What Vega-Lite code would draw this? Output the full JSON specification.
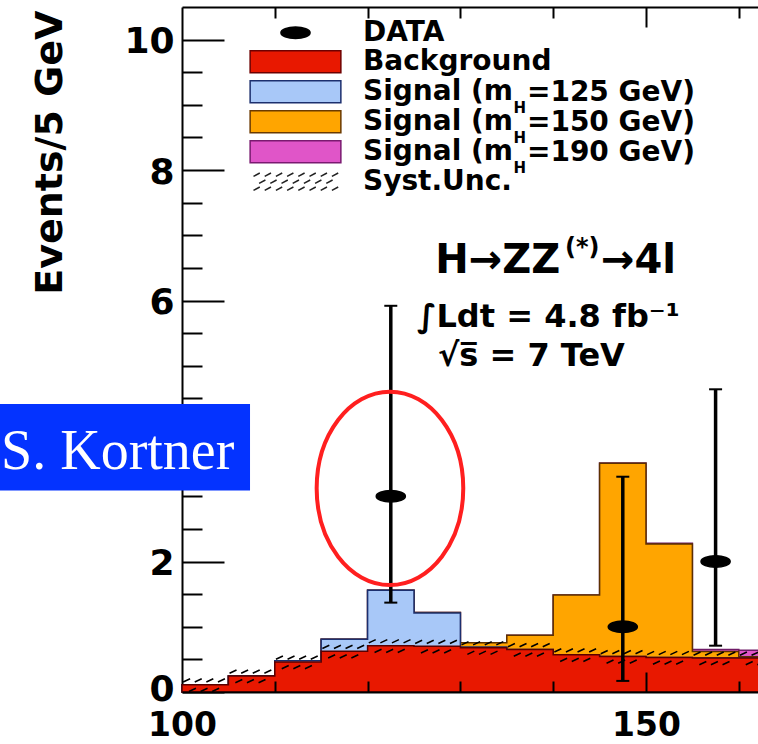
{
  "$schema": "https://vega.github.io/schema/vega-lite/v6.json",
  "width": 576,
  "height": 685,
  "autosize": {"type": "none"},
  "padding": {"left": 182, "top": 7, "right": 0, "bottom": 52},
  "background": "white",
  "config": {
    "view": {"stroke": null},
    "axis": {
      "grid": false,
      "domainColor": "black",
      "domainWidth": 2,
      "tickColor": "black",
      "tickWidth": 2,
      "labelColor": "black",
      "labelFont": "DejaVu Sans",
      "labelFontWeight": "bold",
      "titleColor": "black",
      "labelFlush": false
    },
    "text": {"font": "DejaVu Sans", "fontWeight": "bold", "color": "black", "align": "left", "baseline": "alphabetic"}
  },
  "datasets": {
    "hist": [
      {"mlow": 100, "series": "Background", "value": 0.11},
      {"mlow": 105, "series": "Background", "value": 0.245},
      {"mlow": 110, "series": "Background", "value": 0.46},
      {"mlow": 115, "series": "Background", "value": 0.625},
      {"mlow": 120, "series": "Background", "value": 0.71},
      {"mlow": 125, "series": "Background", "value": 0.7},
      {"mlow": 130, "series": "Background", "value": 0.68},
      {"mlow": 135, "series": "Background", "value": 0.65},
      {"mlow": 140, "series": "Background", "value": 0.57},
      {"mlow": 145, "series": "Background", "value": 0.545},
      {"mlow": 150, "series": "Background", "value": 0.53},
      {"mlow": 155, "series": "Background", "value": 0.52},
      {"mlow": 160, "series": "Background", "value": 0.52},
      {"mlow": 165, "series": "Background", "value": 0.52},
      {"mlow": 100, "series": "Signal (mH=125 GeV)", "value": 0},
      {"mlow": 105, "series": "Signal (mH=125 GeV)", "value": 0},
      {"mlow": 110, "series": "Signal (mH=125 GeV)", "value": 0.02},
      {"mlow": 115, "series": "Signal (mH=125 GeV)", "value": 0.185},
      {"mlow": 120, "series": "Signal (mH=125 GeV)", "value": 0.85},
      {"mlow": 125, "series": "Signal (mH=125 GeV)", "value": 0.51},
      {"mlow": 130, "series": "Signal (mH=125 GeV)", "value": 0.01},
      {"mlow": 135, "series": "Signal (mH=125 GeV)", "value": 0},
      {"mlow": 140, "series": "Signal (mH=125 GeV)", "value": 0},
      {"mlow": 145, "series": "Signal (mH=125 GeV)", "value": 0},
      {"mlow": 150, "series": "Signal (mH=125 GeV)", "value": 0},
      {"mlow": 155, "series": "Signal (mH=125 GeV)", "value": 0},
      {"mlow": 160, "series": "Signal (mH=125 GeV)", "value": 0},
      {"mlow": 165, "series": "Signal (mH=125 GeV)", "value": 0},
      {"mlow": 100, "series": "Signal (mH=150 GeV)", "value": 0},
      {"mlow": 105, "series": "Signal (mH=150 GeV)", "value": 0},
      {"mlow": 110, "series": "Signal (mH=150 GeV)", "value": 0},
      {"mlow": 115, "series": "Signal (mH=150 GeV)", "value": 0},
      {"mlow": 120, "series": "Signal (mH=150 GeV)", "value": 0},
      {"mlow": 125, "series": "Signal (mH=150 GeV)", "value": 0.01},
      {"mlow": 130, "series": "Signal (mH=150 GeV)", "value": 0.065},
      {"mlow": 135, "series": "Signal (mH=150 GeV)", "value": 0.22},
      {"mlow": 140, "series": "Signal (mH=150 GeV)", "value": 0.917},
      {"mlow": 145, "series": "Signal (mH=150 GeV)", "value": 2.96},
      {"mlow": 150, "series": "Signal (mH=150 GeV)", "value": 1.74},
      {"mlow": 155, "series": "Signal (mH=150 GeV)", "value": 0.1},
      {"mlow": 160, "series": "Signal (mH=150 GeV)", "value": 0.02},
      {"mlow": 165, "series": "Signal (mH=150 GeV)", "value": 0.01},
      {"mlow": 100, "series": "Signal (mH=190 GeV)", "value": 0},
      {"mlow": 105, "series": "Signal (mH=190 GeV)", "value": 0},
      {"mlow": 110, "series": "Signal (mH=190 GeV)", "value": 0},
      {"mlow": 115, "series": "Signal (mH=190 GeV)", "value": 0},
      {"mlow": 120, "series": "Signal (mH=190 GeV)", "value": 0},
      {"mlow": 125, "series": "Signal (mH=190 GeV)", "value": 0},
      {"mlow": 130, "series": "Signal (mH=190 GeV)", "value": 0},
      {"mlow": 135, "series": "Signal (mH=190 GeV)", "value": 0},
      {"mlow": 140, "series": "Signal (mH=190 GeV)", "value": 0},
      {"mlow": 145, "series": "Signal (mH=190 GeV)", "value": 0.005},
      {"mlow": 150, "series": "Signal (mH=190 GeV)", "value": 0.01},
      {"mlow": 155, "series": "Signal (mH=190 GeV)", "value": 0.03},
      {"mlow": 160, "series": "Signal (mH=190 GeV)", "value": 0.1},
      {"mlow": 165, "series": "Signal (mH=190 GeV)", "value": 0.15}
    ],
    "points": [
      {"mass": 122.5, "n": 3, "errLo": 1.37, "errHi": 5.92, "series": "DATA"},
      {"mass": 147.5, "n": 1, "errLo": 0.17, "errHi": 3.3, "series": "DATA"},
      {"mass": 157.5, "n": 2, "errLo": 0.71, "errHi": 4.64, "series": "DATA"}
    ]
  },
  "resolve": {"axis": {"x": "independent", "y": "independent"}},
  "layer": [
    {
      "data": {"name": "hist"},
      "transform": [
        {"stack": "value", "groupby": ["mlow"], "sort": [{"field": "series", "order": "ascending"}], "as": ["y0", "y1"]},
        {"filter": "datum.series === 'Signal (mH=190 GeV)'"}
      ],
      "mark": {"type": "area", "interpolate": "step-after", "fill": "#e055c8", "stroke": "#6e1a66", "strokeWidth": 1.5},
      "encoding": {
        "x": {"field": "mlow", "type": "quantitative", "scale": {"domain": [100, 162.07], "nice": false, "zero": false},
          "axis": {"orient": "bottom", "values": [100, 150], "ticks": false, "labelPadding": 17, "labelFontSize": 33, "domain": true, "title": null, "zindex": 1, "labelOverlap": false}},
        "y": {"field": "y1", "type": "quantitative", "scale": {"domain": [0, 10.5], "nice": false},
          "axis": {"orient": "left", "values": [0, 2, 6, 8, 10], "ticks": false, "labelPadding": 8, "labelFontSize": 36,
            "labelOffset": {"condition": {"test": "datum.value === 0", "value": -3}, "value": 2},
            "domain": true, "zindex": 0, "labelOverlap": false,
            "title": "Events/5 GeV", "titleFont": "DejaVu Sans", "titleFontSize": 38, "titleFontWeight": "bold", "titleAngle": -90, "titleX": -121, "titleY": 3, "titleAlign": "right", "titleBaseline": "alphabetic"}},
        "y2": {"datum": 0}
      }
    },
    {
      "data": {"name": "hist"},
      "transform": [
        {"stack": "value", "groupby": ["mlow"], "sort": [{"field": "series", "order": "ascending"}], "as": ["y0", "y1"]},
        {"filter": "datum.series === 'Signal (mH=150 GeV)'"}
      ],
      "mark": {"type": "area", "interpolate": "step-after", "fill": "#ffa500", "stroke": "#5c3000", "strokeWidth": 1.5},
      "encoding": {
        "x": {"field": "mlow", "type": "quantitative",
          "axis": {"orient": "bottom", "values": [110, 120, 130, 140, 160], "tickSize": -11, "labels": false, "domain": false, "title": null, "zindex": 1}},
        "y": {"field": "y1", "type": "quantitative",
          "axis": {"orient": "left", "values": [0, 2, 4, 6, 8, 10], "tickSize": -42, "labels": false, "domain": false, "title": null, "zindex": 0}},
        "y2": {"datum": 0}
      }
    },
    {
      "data": {"name": "hist"},
      "transform": [
        {"stack": "value", "groupby": ["mlow"], "sort": [{"field": "series", "order": "ascending"}], "as": ["y0", "y1"]},
        {"filter": "datum.series === 'Signal (mH=125 GeV)'"}
      ],
      "mark": {"type": "area", "interpolate": "step-after", "fill": "#a8c8f8", "stroke": "#1c2f6e", "strokeWidth": 1.5},
      "encoding": {
        "x": {"field": "mlow", "type": "quantitative",
          "axis": {"orient": "bottom", "values": [150], "tickSize": -20, "labels": false, "domain": false, "title": null, "zindex": 1}},
        "y": {"field": "y1", "type": "quantitative",
          "axis": {"orient": "left", "values": [0.5, 1, 1.5, 2.5, 3, 3.5, 4.5, 5, 5.5, 6.5, 7, 7.5, 8.5, 9, 9.5], "tickSize": -20, "labels": false, "domain": false, "title": null, "zindex": 0}},
        "y2": {"datum": 0}
      }
    },
    {
      "data": {"name": "hist"},
      "transform": [{"filter": "datum.series === 'Background'"}],
      "mark": {"type": "area", "interpolate": "step-after", "fill": "#e81800", "stroke": "#5a0000", "strokeWidth": 1.5},
      "encoding": {
        "x": {"field": "mlow", "type": "quantitative",
          "axis": {"orient": "top", "values": [110, 120, 130, 140, 160], "tickSize": -11, "labels": false, "domain": true, "title": null, "zindex": 1}},
        "y": {"field": "value", "type": "quantitative", "axis": null},
        "y2": {"datum": 0}
      }
    },
    {
      "data": {"name": "hist"},
      "transform": [{"filter": "datum.series === 'Background'"}],
      "mark": {"type": "point", "filled": false, "opacity": 1, "size": 2153, "color": "black", "strokeWidth": 1.6,
        "shape": "M0.05,-0.12L0.35,-0.26M0.55,-0.12L0.85,-0.26M1.05,-0.12L1.35,-0.26M1.55,-0.12L1.85,-0.26M0.3,0.29L0.6,0.15M0.8,0.29L1.1,0.15M1.3,0.29L1.6,0.15"},
      "encoding": {
        "x": {"field": "mlow", "type": "quantitative",
          "axis": {"orient": "top", "values": [150], "tickSize": -20, "labels": false, "domain": false, "title": null, "zindex": 1}},
        "y": {"field": "value", "type": "quantitative", "axis": null}
      }
    },
    {
      "data": {"name": "points"},
      "mark": {"type": "rule", "color": "black", "strokeWidth": 3.5},
      "encoding": {
        "x": {"field": "mass", "type": "quantitative", "axis": null},
        "y": {"field": "errLo", "type": "quantitative", "axis": null},
        "y2": {"field": "errHi"}
      }
    },
    {
      "data": {"name": "points"},
      "mark": {"type": "tick", "orient": "horizontal", "size": 13, "thickness": 2, "color": "black", "opacity": 1},
      "encoding": {
        "x": {"field": "mass", "type": "quantitative", "axis": null},
        "y": {"field": "errHi", "type": "quantitative", "axis": null}
      }
    },
    {
      "data": {"name": "points"},
      "mark": {"type": "tick", "orient": "horizontal", "size": 13, "thickness": 2, "color": "black", "opacity": 1},
      "encoding": {
        "x": {"field": "mass", "type": "quantitative", "axis": null},
        "y": {"field": "errLo", "type": "quantitative", "axis": null}
      }
    },
    {
      "data": {"name": "points"},
      "mark": {"type": "point", "filled": true, "size": 784, "opacity": 1, "strokeWidth": 1.5},
      "encoding": {
        "x": {"field": "mass", "type": "quantitative", "axis": null},
        "y": {"field": "n", "type": "quantitative", "axis": null},
        "fill": {"field": "series", "type": "nominal",
          "scale": {"domain": ["DATA", "Background", "Signal (mH=125 GeV)", "Signal (mH=150 GeV)", "Signal (mH=190 GeV)", "Syst.Unc."],
                    "range": ["black", "#e81800", "#a8c8f8", "#ffa500", "#e055c8", "transparent"]},
          "legend": {"title": null, "orient": "none", "legendX": 68.5, "legendY": 10.7, "padding": 0, "rowPadding": 0,
            "symbolSize": 784, "symbolOffset": 30, "symbolStrokeWidth": 1.5, "labelOffset": 52.5,
            "labelFont": "DejaVu Sans", "labelFontSize": 28, "labelFontWeight": "bold", "labelColor": "black", "labelLimit": 1000,
            "labelExpr": "indexof(datum.label, 'mH') >= 0 ? substring(datum.label, 0, indexof(datum.label, 'mH') + 1) : datum.label"}},
        "stroke": {"field": "series", "type": "nominal",
          "scale": {"domain": ["DATA", "Background", "Signal (mH=125 GeV)", "Signal (mH=150 GeV)", "Signal (mH=190 GeV)", "Syst.Unc."],
                    "range": ["black", "#6e0000", "#1c2f6e", "#6b3a00", "#7a1a70", "#222222"]},
          "legend": {"title": null}},
        "shape": {"field": "series", "type": "nominal",
          "scale": {"domain": ["DATA", "Background", "Signal (mH=125 GeV)", "Signal (mH=150 GeV)", "Signal (mH=190 GeV)", "Syst.Unc."],
                    "range": [
                      "M-1.04,0C-1.04,-0.226,-0.574,-0.41,0,-0.41C0.574,-0.41,1.04,-0.226,1.04,0C1.04,0.226,0.574,0.41,0,0.41C-0.574,0.41,-1.04,0.226,-1.04,0Z",
                      "M-3.24,-0.786H3.24V0.786H-3.24Z",
                      "M-3.24,-0.786H3.24V0.786H-3.24Z",
                      "M-3.24,-0.786H3.24V0.786H-3.24Z",
                      "M-3.24,-0.786H3.24V0.786H-3.24Z",
                      "M-3,-0.38L-2.55,-0.62M-2.2,-0.38L-1.75,-0.62M-1.4,-0.38L-0.95,-0.62M-0.6,-0.38L-0.15,-0.62M0.2,-0.38L0.65,-0.62M1,-0.38L1.45,-0.62M1.8,-0.38L2.25,-0.62M2.6,-0.38L3.05,-0.62M-2.6,0.12L-2.15,-0.12M-1.8,0.12L-1.35,-0.12M-1,0.12L-0.55,-0.12M-0.2,0.12L0.25,-0.12M0.6,0.12L1.05,-0.12M1.4,0.12L1.85,-0.12M2.2,0.12L2.65,-0.12M-3,0.62L-2.55,0.38M-2.2,0.62L-1.75,0.38M-1.4,0.62L-0.95,0.38M-0.6,0.62L-0.15,0.38M0.2,0.62L0.65,0.38M1,0.62L1.45,0.38M1.8,0.62L2.25,0.38M2.6,0.62L3.05,0.38"
                    ]},
          "legend": {"title": null}}
      }
    },
    {
      "data": {"values": [{}]},
      "mark": {"type": "point", "filled": false, "opacity": 1, "size": 37404, "color": "#ff1f1f", "strokeWidth": 4,
        "shape": "M-0.758,0C-0.758,-0.5523,-0.4187,-1,0,-1C0.4187,-1,0.758,-0.5523,0.758,0C0.758,0.5523,0.4187,1,0,1C-0.4187,1,-0.758,0.5523,-0.758,0Z"},
      "encoding": {
        "x": {"datum": 122.41, "type": "quantitative", "axis": null},
        "y": {"datum": 3.122, "type": "quantitative", "axis": null}
      }
    },
    {
      "data": {"values": [{}]},
      "mark": {"type": "rect", "color": "#0433ff"},
      "encoding": {
        "x": {"datum": 80.2, "type": "quantitative", "axis": null},
        "x2": {"datum": 107.33},
        "y": {"datum": 4.415, "type": "quantitative", "axis": null},
        "y2": {"datum": 3.089}
      }
    },
    {
      "data": {"values": [{}]},
      "mark": {"type": "text", "text": "S. Kortner", "font": "Liberation Serif", "fontWeight": "normal", "fontSize": 56, "color": "white"},
      "encoding": {
        "x": {"datum": 80.5, "type": "quantitative", "axis": null},
        "y": {"datum": 3.414, "type": "quantitative", "axis": null}
      }
    },
    {
      "data": {"values": [{}]},
      "mark": {"type": "text", "text": "H", "fontSize": 15},
      "encoding": {
        "x": {"datum": 135.72, "type": "quantitative", "axis": null},
        "y": {"datum": 8.88, "type": "quantitative", "axis": null}
      }
    },
    {
      "data": {"values": [{}]},
      "mark": {"type": "text", "text": "=125 GeV)", "fontSize": 28},
      "encoding": {
        "x": {"datum": 137.17, "type": "quantitative", "axis": null},
        "y": {"datum": 9.064, "type": "quantitative", "axis": null}
      }
    },
    {
      "data": {"values": [{}]},
      "mark": {"type": "text", "text": "H", "fontSize": 15},
      "encoding": {
        "x": {"datum": 135.72, "type": "quantitative", "axis": null},
        "y": {"datum": 8.42, "type": "quantitative", "axis": null}
      }
    },
    {
      "data": {"values": [{}]},
      "mark": {"type": "text", "text": "=150 GeV)", "fontSize": 28},
      "encoding": {
        "x": {"datum": 137.17, "type": "quantitative", "axis": null},
        "y": {"datum": 8.604, "type": "quantitative", "axis": null}
      }
    },
    {
      "data": {"values": [{}]},
      "mark": {"type": "text", "text": "H", "fontSize": 15},
      "encoding": {
        "x": {"datum": 135.72, "type": "quantitative", "axis": null},
        "y": {"datum": 7.96, "type": "quantitative", "axis": null}
      }
    },
    {
      "data": {"values": [{}]},
      "mark": {"type": "text", "text": "=190 GeV)", "fontSize": 28},
      "encoding": {
        "x": {"datum": 137.17, "type": "quantitative", "axis": null},
        "y": {"datum": 8.144, "type": "quantitative", "axis": null}
      }
    },
    {
      "data": {"values": [{}]},
      "mark": {"type": "text", "text": "H→ZZ", "fontSize": 40},
      "encoding": {
        "x": {"datum": 127.29, "type": "quantitative", "axis": null},
        "y": {"datum": 6.423, "type": "quantitative", "axis": null}
      }
    },
    {
      "data": {"values": [{}]},
      "mark": {"type": "text", "text": "(*)", "fontSize": 24},
      "encoding": {
        "x": {"datum": 141.27, "type": "quantitative", "axis": null},
        "y": {"datum": 6.699, "type": "quantitative", "axis": null}
      }
    },
    {
      "data": {"values": [{}]},
      "mark": {"type": "text", "text": "→4l", "fontSize": 40},
      "encoding": {
        "x": {"datum": 145.14, "type": "quantitative", "axis": null},
        "y": {"datum": 6.423, "type": "quantitative", "axis": null}
      }
    },
    {
      "data": {"values": [{}]},
      "mark": {"type": "text", "text": "∫Ldt = 4.8 fb⁻¹", "fontSize": 32},
      "encoding": {
        "x": {"datum": 125.32, "type": "quantitative", "axis": null},
        "y": {"datum": 5.594, "type": "quantitative", "axis": null}
      }
    },
    {
      "data": {"values": [{}]},
      "mark": {"type": "text", "text": "√s̅ = 7 TeV", "fontSize": 32},
      "encoding": {
        "x": {"datum": 127.58, "type": "quantitative", "axis": null},
        "y": {"datum": 4.997, "type": "quantitative", "axis": null}
      }
    }
  ]
}
